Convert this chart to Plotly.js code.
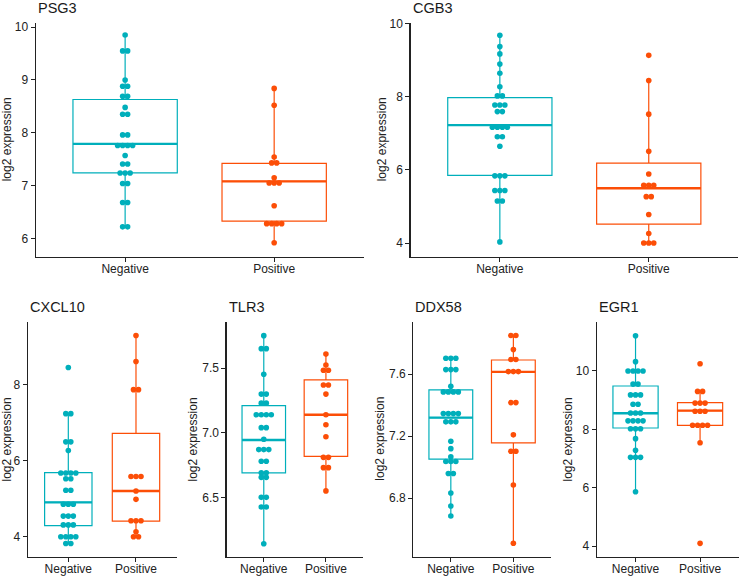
<!DOCTYPE html>
<html>
<head>
<meta charset="utf-8">
<script src="https://cdn.plot.ly/plotly-3.0.1.min.js"></script>
<style>html,body{margin:0;padding:0;background:#fff}#chart{width:740px;height:576px}</style>
</head>
<body>
<div id="chart"></div>
<script>
// ---------- DATA ----------
const genes = ["PSG3", "CGB3", "CXCL10", "TLR3", "DDX58", "EGR1"];
const groups = ["Negative", "Positive"];

// individual sample values (dot-plot bins), Negative / Positive
const psg3_neg = [9.85, 9.55, 9.55, 9.0, 8.88, 8.88, 8.69, 8.69, 8.48, 8.35, 8.35, 7.96, 7.96, 7.76, 7.76, 7.76, 7.76, 7.57, 7.41, 7.41, 7.24, 7.24, 7.24, 7.04, 7.04, 6.68, 6.68, 6.22, 6.22];
const psg3_pos = [8.84, 8.52, 7.54, 7.43, 7.43, 7.15, 7.05, 7.05, 7.05, 6.62, 6.28, 6.28, 6.28, 6.28, 5.92];
const cgb3_neg = [9.69, 9.38, 9.18, 8.90, 8.65, 8.28, 8.03, 8.03, 7.78, 7.78, 7.78, 7.60, 7.60, 7.17, 7.17, 7.17, 7.17, 6.91, 6.91, 6.65, 5.84, 5.84, 5.84, 5.44, 5.44, 5.44, 5.15, 5.15, 4.03];
const cgb3_pos = [9.14, 8.45, 7.53, 6.51, 5.89, 5.58, 5.58, 5.58, 5.27, 5.27, 4.78, 4.26, 4.0, 4.0, 4.0];
const cxcl10_neg = [8.44, 7.23, 7.23, 6.49, 6.49, 6.26, 5.67, 5.67, 5.67, 5.67, 5.52, 5.52, 5.22, 5.22, 4.85, 4.85, 4.85, 4.54, 4.54, 4.54, 4.31, 4.31, 4.31, 4.0, 4.0, 4.0, 4.0, 3.82, 3.82];
const cxcl10_pos = [9.28, 8.60, 7.86, 7.86, 5.58, 5.58, 5.58, 5.20, 4.98, 4.42, 4.42, 4.42, 4.13, 4.0, 4.0];
const tlr3_neg = [7.753, 7.652, 7.652, 7.454, 7.30, 7.30, 7.23, 7.23, 7.14, 7.14, 7.14, 7.14, 7.04, 7.04, 6.95, 6.87, 6.87, 6.87, 6.78, 6.78, 6.69, 6.69, 6.655, 6.655, 6.5, 6.5, 6.425, 6.425, 6.14];
const tlr3_pos = [7.61, 7.526, 7.485, 7.485, 7.37, 7.37, 7.30, 7.14, 7.063, 6.97, 6.81, 6.81, 6.73, 6.73, 6.55];
const ddx58_neg = [7.703, 7.703, 7.703, 7.63, 7.63, 7.63, 7.523, 7.486, 7.486, 7.486, 7.486, 7.346, 7.346, 7.346, 7.346, 7.293, 7.293, 7.293, 7.168, 7.12, 7.067, 7.037, 7.037, 7.037, 6.96, 6.96, 6.834, 6.75, 6.686];
const ddx58_pos = [7.85, 7.85, 7.76, 7.695, 7.695, 7.617, 7.617, 7.617, 7.417, 7.417, 7.209, 7.103, 7.103, 6.886, 6.51];
const egr1_neg = [11.21, 10.32, 10.0, 10.0, 10.0, 10.0, 9.55, 9.55, 9.18, 9.18, 9.18, 8.86, 8.86, 8.56, 8.56, 8.56, 8.29, 8.29, 8.29, 8.29, 8.02, 8.02, 8.02, 7.68, 7.28, 7.04, 7.04, 7.04, 5.86];
const egr1_pos = [10.25, 9.30, 9.30, 8.90, 8.90, 8.90, 8.62, 8.62, 8.62, 8.14, 8.14, 8.14, 8.14, 7.54, 4.09];

// box summaries: [Negative, Positive] per gene
const box_q1     = [[7.24, 6.33], [5.85, 4.52], [4.29, 4.41], [6.69, 6.818], [7.052, 7.157], [8.046, 8.137]];
const box_median = [[7.79, 7.08], [7.23, 5.50], [4.90, 5.20], [6.944, 7.14], [7.32, 7.615], [8.55, 8.64]];
const box_q3     = [[8.63, 7.42], [7.98, 6.19], [5.68, 6.71], [7.21, 7.41], [7.499, 7.692], [9.486, 8.914]];
const box_lower  = [[6.22, 5.92], [4.03, 4.0], [3.82, 4.0], [6.14, 6.55], [6.686, 6.51], [5.86, 7.54]];
const box_upper  = [[9.85, 8.84], [9.69, 8.45], [7.23, 9.28], [7.753, 7.61], [7.703, 7.85], [11.21, 9.30]];

// y tick values per panel
const yticks = [[6, 7, 8, 9, 10], [4, 6, 8, 10], [4, 6, 8], [6.5, 7.0, 7.5], [6.8, 7.2, 7.6], [4, 6, 8, 10]];

const points = [[psg3_neg, psg3_pos], [cgb3_neg, cgb3_pos], [cxcl10_neg, cxcl10_pos], [tlr3_neg, tlr3_pos], [ddx58_neg, ddx58_pos], [egr1_neg, egr1_pos]];

// ---------- LAYOUT / STYLE ----------
const W = 740, H = 576;
const colors = ["#00AFBB", "#FC4E07"];
const panelsX = [[35.7, 363.6], [410.5, 738.1], [27.7, 176.6], [226.5, 363.2], [413.3, 550.9], [596.8, 738.8]];
const topY = [22.5, 256.7], botY = [321.7, 556.7];
const panelsY = [topY, topY, botY, botY, botY, botY];
const yRanges = [[5.655, 10.087], [3.625, 10.04], [3.475, 9.643], [6.040, 7.861], [6.423, 7.939], [3.633, 11.69]];
const yFormats = ["", "", "", ".1f", ".1f", ""];
const ytitleX = [6.7, 381.7, 7.3, 193.3, 380.5, 568.3];
const FONT = "Liberation Sans, Arial, Helvetica, sans-serif";
const BOXW = 0.7, DOT = 5.0;

const traces = [];
const layout = {
  width: W, height: H, margin: {l: 0, r: 0, t: 0, b: 0},
  paper_bgcolor: "white", plot_bgcolor: "white", showlegend: false,
  font: {family: FONT, size: 12, color: "#222"},
  annotations: []
};

genes.forEach((g, p) => {
  const sfx = p === 0 ? "" : String(p + 1);
  const xa = "x" + sfx, ya = "y" + sfx;
  const [x0, x1] = panelsX[p], [py0, py1] = panelsY[p];
  const pxPerUnit = (x1 - x0) / 2.2;
  const du = DOT / pxPerUnit;

  layout["xaxis" + sfx] = {
    domain: [x0 / W, x1 / W], anchor: ya, range: [-0.6, 1.6],
    tickvals: [0, 1], ticktext: groups, showgrid: false, zeroline: false,
    showline: true, linecolor: "#222", linewidth: 1.2,
    ticks: "outside", ticklen: 4, tickwidth: 1, tickcolor: "#222",
    ticklabelstandoff: -3,
    tickfont: {family: FONT, size: 12, color: "#222"}, fixedrange: true
  };
  layout["yaxis" + sfx] = {
    domain: [1 - py1 / H, 1 - py0 / H], anchor: xa, range: yRanges[p],
    tickvals: yticks[p], tickformat: yFormats[p], showgrid: false, zeroline: false,
    showline: true, linecolor: "#222", linewidth: 1.2,
    ticks: "outside", ticklen: 4, tickwidth: 1, tickcolor: "#222",
    tickfont: {family: FONT, size: 12, color: "#222"}, fixedrange: true
  };

  groups.forEach((grp, gi) => {
    const c = colors[gi];
    traces.push({
      type: "box", xaxis: xa, yaxis: ya, x: [gi],
      q1: [box_q1[p][gi]], median: [box_median[p][gi]], q3: [box_q3[p][gi]],
      lowerfence: [box_lower[p][gi]], upperfence: [box_upper[p][gi]],
      width: BOXW, fillcolor: "white", line: {color: c, width: 1.2},
      whiskerwidth: 0, boxpoints: false, hoverinfo: "skip"
    });
    traces.push({
      type: "scatter", mode: "lines", xaxis: xa, yaxis: ya,
      x: [gi - BOXW / 2, gi + BOXW / 2],
      y: [box_median[p][gi], box_median[p][gi]],
      line: {color: c, width: 2.4}, hoverinfo: "skip"
    });
    // dot-plot: stack equal values side by side, centred
    const vals = points[p][gi];
    const counts = {};
    vals.forEach(v => counts[v] = (counts[v] || 0) + 1);
    const seen = {};
    const xs = [], ys = [];
    vals.forEach(v => {
      const n = counts[v];
      const i = seen[v] || 0;
      seen[v] = i + 1;
      xs.push(gi + (i - (n - 1) / 2) * du);
      ys.push(v);
    });
    traces.push({
      type: "scatter", mode: "markers", xaxis: xa, yaxis: ya, x: xs, y: ys,
      marker: {color: c, size: 5.6, line: {width: 0}}, hoverinfo: "y"
    });
  });

  // panel title
  layout.annotations.push({
    xref: "paper", yref: "paper", x: x0 / W, y: 1 - (py0 - 15) / H,
    xanchor: "left", yanchor: "middle", showarrow: false, text: g,
    font: {family: FONT, size: 14.5, color: "#1a1a1a", weight: 400}
  });
  // y-axis title
  layout.annotations.push({
    xref: "paper", yref: "paper", x: ytitleX[p] / W, y: 1 - ((py0 + py1) / 2) / H,
    xanchor: "center", yanchor: "middle", showarrow: false, textangle: -90,
    text: "log2 expression", font: {family: FONT, size: 12, color: "#222"}
  });
});

Plotly.newPlot("chart", traces, layout, {displayModeBar: false, staticPlot: true});
</script>
</body>
</html>
